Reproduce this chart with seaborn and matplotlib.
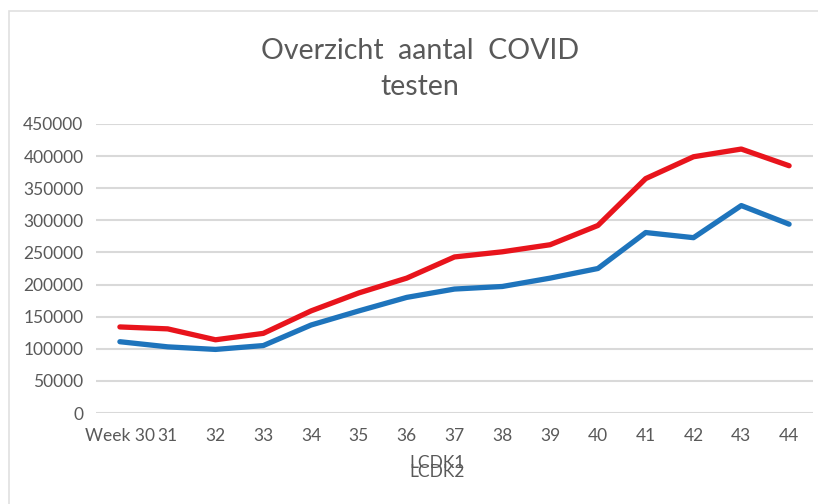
import pandas as pd
import matplotlib.pyplot as plt
import seaborn as sns
from matplotlib.patches import Rectangle

weeks = ["Week 30", "31", "32", "33", "34", "35", "36", "37",
         "38", "39", "40", "41", "42", "43", "44"]
lcdk1 = [134000, 131000, 114000, 124000, 159000, 187000, 210000, 243000,
         251000, 262000, 292000, 365000, 399000, 411000, 385000]
lcdk2 = [111000, 103000, 99000, 105000, 137000, 159000, 180000, 193000,
         197000, 210000, 225000, 281000, 273000, 323000, 294000]

df = pd.DataFrame({"week": weeks, "LCDK1": lcdk1, "LCDK2": lcdk2})
long_df = df.melt(id_vars="week", var_name="serie", value_name="testen")

sns.set_style("white")
plt.rcParams["font.family"] = ["Lato", "DejaVu Sans"]
grey = "#595959"

fig = plt.figure(figsize=(8.18, 5.04), dpi=100)
ax = fig.add_axes([96 / 818, 1 - 413 / 504, (813 - 96) / 818, (413 - 124) / 504])

sns.lineplot(data=long_df, x="week", y="testen", hue="serie",
             palette={"LCDK1": "#E8141C", "LCDK2": "#1E74BC"},
             linewidth=3.8, sort=False, legend=False, ax=ax)

ax.set_xlim(-0.5, len(weeks) - 0.5)
ax.set_ylim(0, 450000)
ax.set_yticks(range(0, 450001, 50000))
ax.set_yticklabels([str(v) for v in range(0, 450001, 50000)])
ax.grid(axis="y", color="#d9d9d9", linewidth=1.5)
ax.set_axisbelow(True)
for s in ax.spines.values():
    s.set_visible(False)
ax.tick_params(axis="both", length=0, labelsize=12.5, labelcolor=grey)
ax.tick_params(axis="y", pad=9)
ax.tick_params(axis="x", pad=11)
ax.set_xlabel("")
ax.set_ylabel("")

fig.text(420 / 818, 1 - 69 / 504, "Overzicht  aantal  COVID\ntesten",
         ha="center", va="center", fontsize=20.5, color=grey, linespacing=1.5)

# legend entries as text only, stacked on top of each other (as in the original)
fig.text(437 / 818, 1 - 463 / 504, "LCDK1", ha="center", va="center",
         fontsize=12.5, color=grey)
fig.text(437 / 818, 1 - 472 / 504, "LCDK2", ha="center", va="center",
         fontsize=12.5, color=grey)

fig.patches.append(Rectangle((9 / 818, -0.05), 1, 1 - 11 / 504 + 0.05,
                             transform=fig.transFigure, fill=False,
                             edgecolor="#e0e0e0", linewidth=1.2))

fig.savefig("out.png", dpi=100)
